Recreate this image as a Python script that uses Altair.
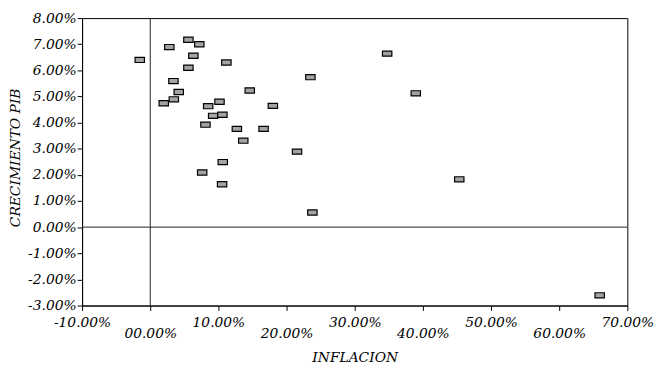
import altair as alt
import pandas as pd

inflacion = [-1.54, 2.8, 5.6, 7.2, 6.33, 11.17, 5.6, 3.4, 4.18, 3.46, 1.98, 10.16, 8.5, 14.6,
             17.99, 9.23, 10.59, 8.1, 12.71, 16.63, 13.65, 21.54, 10.64, 7.62, 10.54, 23.5,
             23.79, 34.76, 38.96, 45.34, 65.94]
crecimiento = [6.40, 6.89, 7.17, 7.0, 6.56, 6.30, 6.10, 5.59, 5.17, 4.89, 4.74, 4.80, 4.63, 5.23,
               4.64, 4.26, 4.30, 3.92, 3.76, 3.76, 3.31, 2.89, 2.49, 2.09, 1.64, 5.74,
               0.56, 6.64, 5.12, 1.83, -2.61]
x_ticks = [-10, 0, 10, 20, 30, 40, 50, 60, 70]
y_ticks = [-3, -2, -1, 0, 1, 2, 3, 4, 5, 6, 7, 8]

df = pd.DataFrame({"INFLACION": inflacion, "CRECIMIENTO": crecimiento})

FONT = "DejaVu Serif"

x_scale = alt.Scale(domain=[-10, 70], nice=False, zero=False)
y_scale = alt.Scale(domain=[-3, 8], nice=False, zero=False)

x_axis = alt.Axis(
    values=x_ticks, grid=False, tickSize=5, tickColor="black", domainColor="black",
    labelExpr="datum.value == 0 ? '00.00%' : (datum.value < 0 ? '-' : '') + format(abs(datum.value), '.2f') + '%'",
    labelPadding={"condition": {"test": "datum.value % 20 == 0", "value": 16}, "value": 5},
    labelFont=FONT, labelFontStyle="italic", labelFontSize=14, labelColor="black",
    labelFlush=False, labelOverlap=False,
    title="INFLACION", titleFont=FONT, titleFontStyle="italic", titleFontWeight="normal",
    titleFontSize=14, titleColor="black", titleY=57, titleBaseline="alphabetic",
)
y_axis = alt.Axis(
    values=y_ticks, grid=False, tickSize=5, tickColor="black", domainColor="black",
    labelExpr="(datum.value < 0 ? '-' : '') + format(abs(datum.value), '.2f') + '%'",
    labelPadding=1, labelFont=FONT, labelFontStyle="italic", labelFontSize=14,
    labelColor="black", labelFlush=False, labelOverlap=False, labelBound=False,
    title="CRECIMIENTO PIB", titleFont=FONT, titleFontStyle="italic", titleFontWeight="normal",
    titleFontSize=14, titleColor="black", titleX=-60, titleY=141, titleAngle=270,
    titleBaseline="bottom", titleAlign="center",
)

points = alt.Chart(df).mark_point(
    shape="M-1,-0.55H1V0.55H-1Z", size=90, filled=True, fill="#a3a3a3",
    stroke="black", strokeWidth=1.2, opacity=1,
).encode(
    x=alt.X("INFLACION:Q", scale=x_scale, axis=x_axis),
    y=alt.Y("CRECIMIENTO:Q", scale=y_scale, axis=y_axis),
)

zero_df = pd.DataFrame({"v": [0]})
vline = alt.Chart(zero_df).mark_rule(color="#222222", strokeWidth=1).encode(
    x=alt.X("v:Q", scale=x_scale, axis=x_axis)
)
hline = alt.Chart(zero_df).mark_rule(color="#222222", strokeWidth=1).encode(
    y=alt.Y("v:Q", scale=y_scale, axis=y_axis)
)

chart = alt.layer(points, vline, hline).properties(
    width=552, height=291,
    autosize=alt.AutoSizeParams(type="none"),
    padding={"left": 75, "top": 8, "right": 28, "bottom": 59},
    background="white",
).configure_view(stroke="black", strokeWidth=1)

chart.save("out.html", embed_options={"renderer": "svg", "actions": False})
